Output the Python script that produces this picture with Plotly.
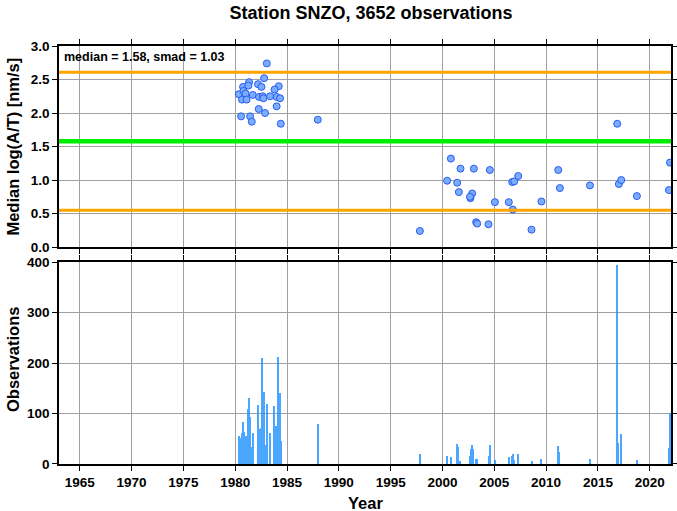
import plotly.graph_objects as go
from plotly.subplots import make_subplots

# ---- data ----
title_text = "Station SNZO, 3652 observations"
median_val = 1.58
smad_val = 1.03

pt_years = [1983.05, 1982.79, 1981.34, 1980.76, 1981.27, 1982.2, 1982.53, 1984.2, 1983.8,
            1980.35, 1980.8, 1981.0, 1981.7, 1982.3, 1982.66, 1982.72, 1983.37, 1984.0,
            1984.33, 1980.66, 1981.1, 1982.27, 1984.0, 1982.88, 1980.57, 1981.44, 1981.6,
            1984.4, 1987.97,
            1997.82, 2000.81, 2000.45, 2001.74, 2001.42, 2001.58, 2003.03, 2002.87, 2002.70,
            2002.66, 2003.25, 2003.35, 2004.57, 2004.44, 2005.06, 2006.4, 2006.79, 2006.73,
            2006.92, 2007.31, 2008.59, 2009.55, 2011.17, 2011.33, 2014.23, 2016.86, 2017.02,
            2017.25, 2018.76, 2021.95, 2021.85]
pt_values = [2.74, 2.52, 2.46, 2.39, 2.41, 2.43, 2.39, 2.40, 2.35,
             2.28, 2.33, 2.29, 2.27, 2.24, 2.25, 2.22, 2.25, 2.24,
             2.22, 2.20, 2.20, 2.06, 2.10, 2.00, 1.95, 1.95, 1.87,
             1.84, 1.90,
             0.24, 1.32, 0.99, 1.17, 0.96, 0.82, 1.17, 0.80, 0.73,
             0.75, 0.37, 0.35, 1.15, 0.34, 0.67, 0.67, 0.56, 0.97,
             0.98, 1.06, 0.26, 0.68, 1.15, 0.88, 0.92, 1.84, 0.94,
             1.00, 0.76, 1.26, 0.85]

bar_years = [1980.35, 1980.56, 1980.66, 1980.76, 1980.85, 1980.95, 1981.1, 1981.3, 1981.37,
             1981.45, 1981.55, 1981.7, 1982.2, 1982.3, 1982.5, 1982.62, 1982.7, 1982.79,
             1982.9, 1983.08, 1983.37, 1983.8, 1983.97, 1984.1, 1984.2, 1984.33, 1984.43,
             1987.97,
             1997.85, 2000.45, 2000.8, 2001.39, 2001.55, 2001.75, 2002.64, 2002.74, 2002.83,
             2002.95, 2003.22, 2003.35, 2004.48, 2004.6, 2005.08, 2006.4, 2006.75, 2006.85,
             2006.95, 2007.33, 2008.62, 2009.55, 2011.13, 2011.3, 2014.22, 2016.83, 2017.0,
             2017.25, 2018.8, 2021.9, 2021.97]
bar_counts = [56, 52, 61, 84, 64, 43, 56, 109, 131,
              92, 33, 61, 117, 70, 72, 209, 20, 142,
              37, 119, 62, 114, 76, 211, 88, 141, 45,
              80,
              20, 16, 14, 40, 34, 6, 16, 29, 38,
              30, 10, 9, 16, 38, 8, 13, 15, 19,
              8, 20, 6, 9, 36, 23, 9, 394, 42,
              60, 8, 32, 100]

year_ticks = [1965, 1970, 1975, 1980, 1985, 1990, 1995, 2000, 2005, 2010, 2015, 2020]
x_range = [1963.0, 2022.05]

# ---- figure ----
fig = make_subplots(rows=2, cols=1, shared_xaxes=False, vertical_spacing=0.0)

fig.add_trace(go.Scatter(
    x=pt_years, y=pt_values, mode="markers",
    marker=dict(size=7, color="#7AACFF", line=dict(color="#2A5CF0", width=1)),
    showlegend=False, cliponaxis=True), row=1, col=1)

fig.add_trace(go.Bar(
    x=bar_years, y=bar_counts, width=0.13,
    marker=dict(color="#1E90FF", line=dict(width=0)), opacity=0.8,
    showlegend=False), row=2, col=1)

# reference lines: median and median +/- smad
for val, col, w in [(median_val + smad_val, "#FFA500", 3),
                    (median_val, "#00EE00", 4.5),
                    (median_val - smad_val, "#FFA500", 3)]:
    fig.add_shape(type="line", xref="x domain", yref="y", x0=0, x1=1, y0=val, y1=val,
                  line=dict(color=col, width=w), layer="above")

font_family = "Liberation Sans, Arial, sans-serif"
tickfont = dict(family=font_family, size=13.5, color="black", weight="bold")
axcommon = dict(showline=True, linecolor="black", linewidth=1.5, mirror="ticks",
                ticks="outside", ticklen=5, tickwidth=1, tickcolor="black",
                showgrid=True, gridcolor="#A0A0A0", gridwidth=1, zeroline=False,
                tickfont=tickfont, automargin=False)

fig.update_xaxes(range=x_range, tickvals=year_ticks, showticklabels=False, **axcommon, row=1, col=1)
fig.update_xaxes(range=x_range, tickvals=year_ticks, **axcommon, row=2, col=1)
fig.update_yaxes(range=[0, 3], tickvals=[0, 0.5, 1, 1.5, 2, 2.5, 3], tickformat=".1f",
                 domain=[0.519, 1.0], **axcommon, row=1, col=1)
fig.update_yaxes(range=[0, 400], tickvals=[0, 100, 200, 300, 400],
                 domain=[0.0, 0.483], **axcommon, row=2, col=1)

labfont = dict(family=font_family, size=16.5, color="black", weight="bold")
fig.add_annotation(xref="paper", yref="paper", x=0.5, y=-0.093, xanchor="center", yanchor="middle",
                   text="Year", showarrow=False, font=labfont)
fig.add_annotation(xref="paper", yref="paper", x=-0.075, y=0.7596, xanchor="center", yanchor="middle",
                   text="Median log(A/T) [nm/s]", textangle=-90, showarrow=False, font=labfont)
fig.add_annotation(xref="paper", yref="paper", x=-0.075, y=0.249, xanchor="center", yanchor="middle",
                   text="Observations", textangle=-90, showarrow=False, font=labfont)

fig.add_annotation(xref="x domain", yref="y domain", x=0.005, y=0.99, xanchor="left", yanchor="top",
                   text=f"median = {median_val:.2f}, smad = {smad_val:.2f}", showarrow=False,
                   font=dict(family=font_family, size=12.5, color="black", weight="bold"),
                   row=1, col=1)

fig.update_layout(
    width=677, height=511,
    margin=dict(l=59, r=6, t=46, b=47),
    paper_bgcolor="white", plot_bgcolor="white",
    bargap=0,
    title=dict(text=title_text, x=371 / 677, xref="container", xanchor="center",
               y=1 - 13 / 511, yref="container", yanchor="middle",
               font=dict(family=font_family, size=18, color="black", weight="bold")),
)

# remove the page's default body margin so the figure sits at the window's top-left
fig.write_html("out.html", config={"displayModeBar": False},
               post_script="document.body.style.margin='0';")
